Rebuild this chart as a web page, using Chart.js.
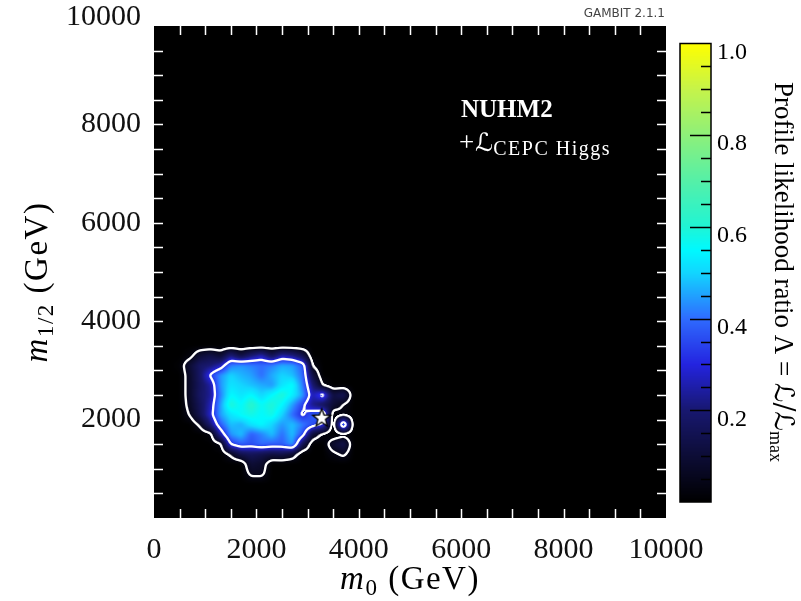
<!DOCTYPE html>
<html>
<head>
<meta charset="utf-8">
<script src="https://cdn.jsdelivr.net/npm/chart.js@4/dist/chart.umd.min.js"></script>
<style>
  html, body { margin: 0; padding: 0; background: #ffffff; }
  #wrap { width: 801px; height: 601px; position: relative; }
</style>
</head>
<body>
<div id="wrap"><canvas id="plot" width="801" height="601"></canvas></div>
<script>
// Bin centres of the profile-likelihood grid (GeV)
const m0Centres = [300, 500, 700, 900, 1100, 1300, 1500, 1700, 1900, 2100, 2300, 2500, 2700, 2900, 3100, 3300, 3500, 3700, 3900, 4100];
const m12Rows = [3700, 3500, 3300, 3100, 2900, 2700, 2500, 2300, 2100, 1900, 1700, 1500, 1300, 1100, 900, 700, 500];

// Profile likelihood ratio Λ, one row per m1/2 bin (top row first)
const profileLambda = [
  [0, 0, 0, 0, 0, 0, 0, 0, 0, 0, 0, 0, 0, 0, 0, 0, 0, 0, 0, 0],
  [0, 0, 0, 0, 0, 0, 0, 0, 0, 0, 0, 0, 0, 0, 0, 0, 0, 0, 0, 0],
  [0, 0, 0.02, 0.10, 0.13, 0.09, 0.21, 0.12, 0.20, 0.26, 0.15, 0.25, 0.22, 0.14, 0, 0, 0, 0, 0, 0],
  [0, 0.01, 0.10, 0.18, 0.20, 0.26, 0.42, 0.44, 0.42, 0.40, 0.42, 0.46, 0.45, 0.38, 0.04, 0, 0, 0, 0, 0],
  [0, 0, 0.08, 0.18, 0.33, 0.44, 0.50, 0.47, 0.45, 0.40, 0.46, 0.50, 0.48, 0.40, 0.12, 0, 0, 0, 0, 0],
  [0, 0, 0.08, 0.17, 0.24, 0.44, 0.52, 0.50, 0.48, 0.46, 0.44, 0.52, 0.56, 0.42, 0.20, 0.04, 0, 0, 0, 0],
  [0, 0, 0.08, 0.18, 0.23, 0.42, 0.55, 0.52, 0.55, 0.50, 0.55, 0.60, 0.54, 0.45, 0.26, 0.36, 0.12, 0.16, 0, 0],
  [0, 0, 0.07, 0.16, 0.26, 0.45, 0.60, 0.55, 0.62, 0.56, 0.60, 0.55, 0.45, 0.34, 0.22, 0.16, 0.10, 0.04, 0, 0],
  [0, 0, 0.05, 0.15, 0.28, 0.45, 0.52, 0.56, 0.58, 0.55, 0.58, 0.50, 0.40, 0.30, 0.38, 0.42, 0, 0.03, 0, 0],
  [0, 0, 0, 0.06, 0.20, 0.38, 0.48, 0.46, 0.52, 0.55, 0.50, 0.44, 0.48, 0.42, 0.36, 0.30, 0, 0.45, 0, 0],
  [0, 0, 0, 0, 0.02, 0.25, 0.44, 0.48, 0.38, 0.42, 0.48, 0.40, 0.48, 0.36, 0.10, 0.03, 0, 0.02, 0, 0],
  [0, 0, 0, 0, 0, 0.03, 0.32, 0.38, 0.36, 0.40, 0.38, 0.38, 0.45, 0.15, 0, 0, 0.09, 0.14, 0, 0],
  [0, 0, 0, 0, 0, 0, 0.06, 0.14, 0.16, 0.14, 0.12, 0.13, 0.09, 0, 0, 0, 0.03, 0.06, 0, 0],
  [0, 0, 0, 0, 0, 0, 0, 0, 0.10, 0.08, 0, 0, 0, 0, 0, 0, 0, 0, 0, 0],
  [0, 0, 0, 0, 0, 0, 0, 0, 0.06, 0.06, 0, 0, 0, 0, 0, 0, 0, 0, 0, 0],
  [0, 0, 0, 0, 0, 0, 0, 0, 0, 0, 0, 0, 0, 0, 0, 0, 0, 0, 0, 0],
  [0, 0, 0, 0, 0, 0, 0, 0, 0, 0, 0, 0, 0, 0, 0, 0, 0, 0, 0, 0]
];

// Best-fit point
const bestFitM0 = [3275];
const bestFitM12 = [2040];

// 68.3% and 95.4% CL contours in Λ
const contourLevels = [0.0455, 0.3173];

// Axis and colour-bar ticks
const xTickValues = [0, 2000, 4000, 6000, 8000, 10000];
const yTickValues = [2000, 4000, 6000, 8000, 10000];
const colourTickValues = [0.2, 0.4, 0.6, 0.8, 1.0];

// Colour map stops (value, colour)
const cmapStops = [
  [0.00, [0, 0, 0]], [0.10, [13, 13, 54]], [0.20, [24, 24, 112]], [0.30, [36, 36, 224]],
  [0.40, [47, 108, 255]], [0.50, [18, 214, 255]], [0.55, [0, 250, 255]], [0.60, [32, 245, 213]],
  [0.70, [85, 240, 168]], [0.80, [142, 240, 122]], [0.90, [198, 244, 74]], [1.00, [255, 255, 0]]
];

function cmap(v) {
  if (v <= 0) return cmapStops[0][1];
  if (v >= 1) return cmapStops[cmapStops.length - 1][1];
  for (let k = 1; k < cmapStops.length; k++) {
    if (v <= cmapStops[k][0]) {
      const [v0, c0] = cmapStops[k - 1], [v1, c1] = cmapStops[k];
      const t = (v - v0) / (v1 - v0);
      return [c0[0] + t * (c1[0] - c0[0]), c0[1] + t * (c1[1] - c0[1]), c0[2] + t * (c1[2] - c0[2])];
    }
  }
  return cmapStops[cmapStops.length - 1][1];
}

// Bilinear lookup of Λ at (m0, m1/2)
function lambdaAt(m0, m12) {
  const dx = m0Centres[1] - m0Centres[0];
  const dy = m12Rows[0] - m12Rows[1];
  const fx = (m0 - m0Centres[0]) / dx;
  const fy = (m12Rows[0] - m12) / dy;
  const nx = m0Centres.length, ny = m12Rows.length;
  if (fx < 0 || fy < 0 || fx > nx - 1 || fy > ny - 1) return 0;
  const i = Math.min(Math.floor(fx), nx - 2), j = Math.min(Math.floor(fy), ny - 2);
  const tx = fx - i, ty = fy - j;
  const a = profileLambda[j][i], b = profileLambda[j][i + 1];
  const c = profileLambda[j + 1][i], d = profileLambda[j + 1][i + 1];
  return (a * (1 - tx) + b * tx) * (1 - ty) + (c * (1 - tx) + d * tx) * ty;
}

function blur(field, W, H, sigma) {
  const r = Math.ceil(sigma * 3);
  const k = [];
  let s = 0;
  for (let t = -r; t <= r; t++) { const w = Math.exp(-t * t / (2 * sigma * sigma)); k.push(w); s += w; }
  for (let t = 0; t < k.length; t++) k[t] /= s;
  const tmp = new Float32Array(W * H), out = new Float32Array(W * H);
  for (let y = 0; y < H; y++) for (let x = 0; x < W; x++) {
    let acc = 0;
    for (let t = -r; t <= r; t++) { const xx = Math.min(W - 1, Math.max(0, x + t)); acc += k[t + r] * field[y * W + xx]; }
    tmp[y * W + x] = acc;
  }
  for (let y = 0; y < H; y++) for (let x = 0; x < W; x++) {
    let acc = 0;
    for (let t = -r; t <= r; t++) { const yy = Math.min(H - 1, Math.max(0, y + t)); acc += k[t + r] * tmp[yy * W + x]; }
    out[y * W + x] = acc;
  }
  return out;
}

const serif = '"Liberation Serif", "DejaVu Serif", serif';
const scriptFont = '"DejaVu Serif", "DejaVu Sans", serif';

// Likelihood map, contours, frame ticks and annotations
const likelihoodMap = {
  id: 'likelihoodMap',
  beforeDatasetsDraw(chart) {
    const { ctx, chartArea: a, scales: { x, y } } = chart;
    const W = Math.round(a.right - a.left), H = Math.round(a.bottom - a.top);
    let field = new Float32Array(W * H);
    for (let j = 0; j < H; j++) {
      const m12 = y.getValueForPixel(a.top + j + 0.5);
      for (let i = 0; i < W; i++) {
        field[j * W + i] = lambdaAt(x.getValueForPixel(a.left + i + 0.5), m12);
      }
    }
    field = blur(field, W, H, 1.5);
    const off = document.createElement('canvas');
    off.width = W; off.height = H;
    const octx = off.getContext('2d');
    const img = octx.createImageData(W, H);
    for (let j = 0; j < H; j++) for (let i = 0; i < W; i++) {
      const p = j * W + i, v = field[p];
      let c = cmap(v);
      const gx = (field[j * W + Math.min(W - 1, i + 1)] - field[j * W + Math.max(0, i - 1)]) / 2;
      const gy = (field[Math.min(H - 1, j + 1) * W + i] - field[Math.max(0, j - 1) * W + i]) / 2;
      const g = Math.hypot(gx, gy);
      let w = 0;
      if (g > 1e-6) {
        for (const L of contourLevels) {
          const d = Math.abs(v - L) / g;
          w = Math.max(w, Math.min(1, Math.max(0, 1.7 - d)));
        }
      }
      c = [c[0] + (255 - c[0]) * w, c[1] + (255 - c[1]) * w, c[2] + (255 - c[2]) * w];
      img.data[p * 4] = c[0]; img.data[p * 4 + 1] = c[1]; img.data[p * 4 + 2] = c[2]; img.data[p * 4 + 3] = 255;
    }
    octx.putImageData(img, 0, 0);
    ctx.drawImage(off, a.left, a.top, W, H);
  },
  afterDatasetsDraw(chart) {
    const { ctx, chartArea: a, scales: { x, y } } = chart;
    ctx.save();
    ctx.strokeStyle = '#ffffff';
    ctx.lineWidth = 1.5;
    ctx.beginPath();
    for (let v = 500; v < 10000; v += 500) {
      const px = Math.round(x.getPixelForValue(v)) + 0.5;
      ctx.moveTo(px, a.bottom); ctx.lineTo(px, a.bottom - 9);
      ctx.moveTo(px, a.top); ctx.lineTo(px, a.top + 9);
      const py = Math.round(y.getPixelForValue(v)) + 0.5;
      ctx.moveTo(a.left, py); ctx.lineTo(a.left + 9, py);
      ctx.moveTo(a.right, py); ctx.lineTo(a.right - 9, py);
    }
    ctx.stroke();
    ctx.restore();
  },
  afterDraw(chart) {
    const { ctx, chartArea: a } = chart;
    ctx.save();
    ctx.fillStyle = '#000';
    ctx.textBaseline = 'alphabetic';
    const titleParts = (sub) => [
      { t: 'm', f: 'italic 33px ' + serif, dy: 0 },
      { t: sub, f: '23px ' + serif, dy: 6 },
      { t: ' (GeV)', f: '33px ' + serif, dy: 0 }
    ];
    const drawParts = (parts, cx, base, spacing) => {
      ctx.letterSpacing = spacing;
      let total = 0;
      for (const p of parts) { ctx.font = p.f; total += ctx.measureText(p.t).width; }
      let xx = cx - total / 2;
      ctx.textAlign = 'left';
      for (const p of parts) { ctx.font = p.f; ctx.fillText(p.t, xx, base + p.dy); xx += ctx.measureText(p.t).width; }
      ctx.letterSpacing = '0px';
    };
    // axis titles
    drawParts(titleParts('0'), (a.left + a.right) / 2, 589, '1.5px');
    ctx.save();
    ctx.translate(47, 282);
    ctx.rotate(-Math.PI / 2);
    drawParts(titleParts('1/2'), 0, 0, '1.5px');
    ctx.restore();

    // model label
    ctx.fillStyle = '#ffffff';
    ctx.textAlign = 'left';
    ctx.font = 'bold 25px ' + serif;
    ctx.fillText('NUHM2', 461, 117);
    ctx.font = '27px ' + serif;
    ctx.fillText('+', 459, 151);
    let lx = 459 + ctx.measureText('+').width + 1;
    ctx.font = '25px ' + scriptFont;
    ctx.fillText('ℒ', lx, 151);
    lx += ctx.measureText('ℒ').width;
    ctx.letterSpacing = '1.5px';
    ctx.font = '20px ' + serif;
    ctx.fillText('CEPC Higgs', lx, 155);
    ctx.letterSpacing = '0px';

    // version stamp
    ctx.fillStyle = '#444444';
    ctx.textAlign = 'right';
    ctx.textBaseline = 'middle';
    ctx.font = '12px "DejaVu Sans", sans-serif';
    ctx.fillText('GAMBIT 2.1.1', 665, 14);

    // colour bar
    const cb = { left: 680, right: 711, top: 43.5, bottom: 502 };
    const cbY = (v) => cb.bottom - v * (cb.bottom - cb.top);
    for (let py = Math.floor(cb.top); py < cb.bottom; py++) {
      const v = (cb.bottom - (py + 0.5)) / (cb.bottom - cb.top);
      const c = cmap(v);
      ctx.fillStyle = `rgb(${c[0] | 0},${c[1] | 0},${c[2] | 0})`;
      ctx.fillRect(cb.left, py, cb.right - cb.left, 1);
    }
    ctx.strokeStyle = '#000';
    ctx.lineWidth = 1.5;
    ctx.strokeRect(cb.left, cb.top, cb.right - cb.left, cb.bottom - cb.top);
    ctx.beginPath();
    for (let k = 1; k < 20; k++) {
      const v = k / 20;
      const major = k % 4 === 0;
      const py = Math.round(cbY(v)) + 0.5;
      ctx.moveTo(cb.right, py);
      ctx.lineTo(cb.right - (major ? 21 : 10), py);
    }
    ctx.stroke();
    ctx.fillStyle = '#000';
    ctx.textAlign = 'left';
    ctx.textBaseline = 'middle';
    ctx.font = '24px ' + serif;
    for (const v of colourTickValues) ctx.fillText(v.toFixed(1), 717, cbY(v) + 9);

    // colour bar title
    ctx.save();
    ctx.translate(775, 82);
    ctx.rotate(Math.PI / 2);
    ctx.textAlign = 'left';
    ctx.textBaseline = 'alphabetic';
    let tx = 0;
    const seg = (t, f, dy) => { ctx.font = f; ctx.fillText(t, tx, dy); tx += ctx.measureText(t).width; };
    seg('Profile likelihood ratio Λ = ', '27px ' + serif, 0);
    seg('ℒ/ℒ', '27px ' + scriptFont, 0);
    seg('max', '18px ' + serif, 5);
    ctx.restore();
    ctx.restore();
  }
};

// Best-fit marker: white five-pointed star with black outline
const starMarker = document.createElement('canvas');
starMarker.width = 24; starMarker.height = 24;
(function () {
  const s = starMarker.getContext('2d');
  s.beginPath();
  for (let k = 0; k < 10; k++) {
    const r = k % 2 === 0 ? 9.5 : 4;
    const ang = -Math.PI / 2 + k * Math.PI / 5;
    const px = 12 + r * Math.cos(ang), py = 12.5 + r * Math.sin(ang);
    if (k === 0) s.moveTo(px, py); else s.lineTo(px, py);
  }
  s.closePath();
  s.fillStyle = '#ffffff';
  s.fill();
  s.strokeStyle = '#000000';
  s.lineWidth = 1.3;
  s.stroke();
})();

const tickFont = { family: serif, size: 30 };

new Chart(document.getElementById('plot'), {
  type: 'scatter',
  data: {
    datasets: [{
      label: 'Best fit',
      data: bestFitM0.map((m0, k) => ({ x: m0, y: bestFitM12[k] })),
      pointStyle: starMarker,
      pointRadius: 12
    }]
  },
  options: {
    responsive: false,
    animation: false,
    events: [],
    layout: { padding: { top: 26, right: 135, left: 0, bottom: 0 } },
    plugins: { legend: { display: false }, tooltip: { enabled: false } },
    scales: {
      x: {
        type: 'linear', min: 0, max: 10000,
        afterBuildTicks: (axis) => { axis.ticks = xTickValues.map(v => ({ value: v })); },
        afterFit: (axis) => { axis.height = 83; axis.paddingLeft = 0; axis.paddingRight = 0; },
        grid: { display: false, drawTicks: false },
        border: { display: false },
        ticks: { font: tickFont, color: '#111', padding: 14, maxRotation: 0, autoSkip: false, callback: (v) => String(v) }
      },
      y: {
        type: 'linear', min: 0, max: 10000,
        afterBuildTicks: (axis) => { axis.ticks = yTickValues.map(v => ({ value: v })); },
        afterFit: (axis) => { axis.width = 154; axis.paddingTop = 0; axis.paddingBottom = 0; },
        grid: { display: false, drawTicks: false },
        border: { display: false },
        ticks: {
          font: Object.assign({ lineHeight: 0.6 }, tickFont), color: '#111', padding: 13, autoSkip: false,
          callback: (v) => (v === 10000 ? ['10000', ''] : String(v))
        }
      }
    }
  },
  plugins: [likelihoodMap]
});
</script>
</body>
</html>
